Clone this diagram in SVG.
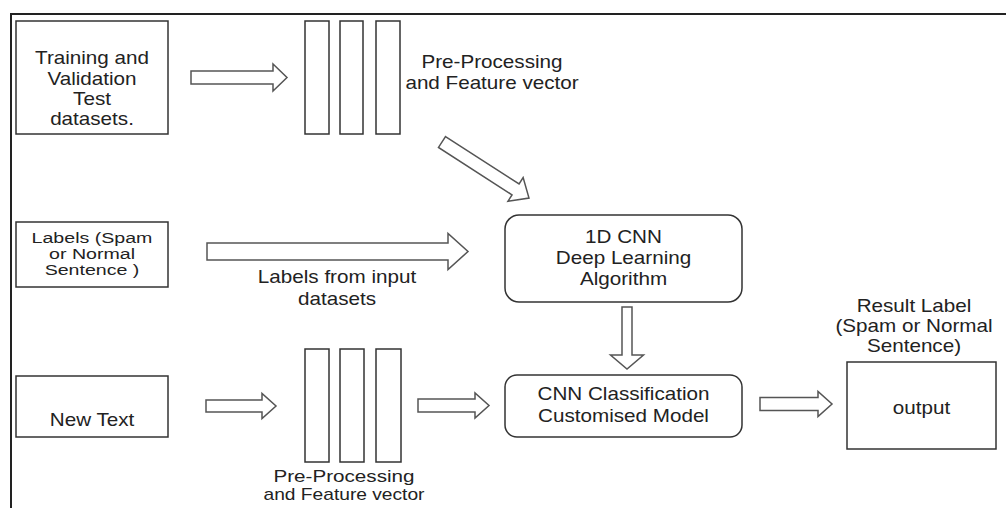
<svg xmlns="http://www.w3.org/2000/svg" width="1006" height="508" viewBox="0 0 1006 508">
<style>
.t{font-family:"Liberation Sans",Arial,sans-serif;font-size:17.5px;fill:#222;text-anchor:middle}
.s{font-size:14px}
.m{font-size:16px}
.box{fill:#fff;stroke:#333;stroke-width:1.5}
.col{fill:#fff;stroke:#333;stroke-width:1.5}
.arr{fill:#fff;stroke:#555;stroke-width:1.5;stroke-linejoin:miter}
</style>
<rect x="0" y="0" width="1006" height="508" fill="#fff"/>
<g id="frame" fill="none" stroke="#222" stroke-width="2">
<path d="M11,508 L11,14 L1006,14"/>
</g>
<g id="training">
<rect class="box" x="16" y="21" width="152" height="113"/>
<text class="t" transform="translate(92,64) scale(1.18,1)">Training and</text>
<text class="t" transform="translate(92,84.5) scale(1.18,1)">Validation</text>
<text class="t" transform="translate(92,105) scale(1.18,1)">Test</text>
<text class="t" transform="translate(92,125) scale(1.18,1)">datasets.</text>
</g>
<g id="preproc-top">
<rect class="col" x="305" y="21" width="24" height="113"/>
<rect class="col" x="340" y="21" width="23" height="113"/>
<rect class="col" x="376" y="21" width="24" height="113"/>
<text class="t" transform="translate(492,68) scale(1.18,1)">Pre-Processing</text>
<text class="t" transform="translate(492,89) scale(1.18,1)">and Feature vector</text>
</g>
<g id="labels">
<rect class="box" x="16" y="222" width="152" height="65"/>
<text class="t s" transform="translate(92,243) scale(1.4,1)">Labels (Spam</text>
<text class="t s" transform="translate(92,259) scale(1.4,1)">or Normal</text>
<text class="t s" transform="translate(92,275) scale(1.4,1)">Sentence )</text>
</g>
<g id="cnn1d">
<rect class="box" x="505" y="215" width="237" height="87" rx="14" ry="14"/>
<text class="t" transform="translate(623.5,243) scale(1.18,1)">1D CNN</text>
<text class="t" transform="translate(623.5,264) scale(1.18,1)">Deep Learning</text>
<text class="t" transform="translate(623.5,285) scale(1.18,1)">Algorithm</text>
</g>
<g id="cnnclass">
<rect class="box" x="505" y="375" width="237" height="62" rx="12" ry="12"/>
<text class="t" transform="translate(623.5,400) scale(1.18,1)">CNN Classification</text>
<text class="t" transform="translate(623.5,422) scale(1.18,1)">Customised Model</text>
</g>
<g id="result-label">
<text class="t" transform="translate(914,312) scale(1.18,1)">Result Label</text>
<text class="t" transform="translate(914,332) scale(1.18,1)">(Spam or Normal</text>
<text class="t" transform="translate(914,352) scale(1.18,1)">Sentence)</text>
</g>
<g id="output">
<rect class="box" x="847" y="362" width="149" height="87"/>
<text class="t" transform="translate(921.5,414) scale(1.18,1)">output</text>
</g>
<g id="newtext">
<rect class="box" x="16" y="376" width="152" height="61"/>
<text class="t" transform="translate(92,426) scale(1.18,1)">New Text</text>
</g>
<g id="preproc-bottom">
<rect class="col" x="305" y="349" width="24" height="113"/>
<rect class="col" x="340" y="349" width="24" height="113"/>
<rect class="col" x="376" y="349" width="25" height="113"/>
<text class="t m" transform="translate(344,482) scale(1.29,1)">Pre-Processing</text>
<text class="t m" transform="translate(344,500) scale(1.2,1)">and Feature vector</text>
</g>
<g id="connectors">
<path class="arr" d="M191,71 L273,71 L273,64 L287,77.5 L273,91 L273,84 L191,84 Z"/>
<path class="arr" transform="translate(442,142) rotate(32.8)" d="M0,-6.5 L87.5,-6.5 L87.5,-14 L103.5,0 L87.5,14 L87.5,6.5 L0,6.5 Z"/>
<path class="arr" d="M207,243 L448,243 L448,233.5 L468,251.5 L448,269.5 L448,260 L207,260 Z"/>
<text class="t" transform="translate(337,283) scale(1.18,1)">Labels from input</text>
<text class="t" transform="translate(337,305) scale(1.18,1)">datasets</text>
<path class="arr" d="M622,307 L632,307 L632,355 L643.5,355 L627,369 L610.5,355 L622,355 Z"/>
<path class="arr" d="M206,400 L262,400 L262,393.5 L276,406 L262,418.5 L262,412 L206,412 Z"/>
<path class="arr" d="M418,399 L475,399 L475,393 L489,405.5 L475,418 L475,412 L418,412 Z"/>
<path class="arr" d="M760,397.5 L818,397.5 L818,391.5 L832,404 L818,416.5 L818,410.5 L760,410.5 Z"/>
</g>
</svg>
